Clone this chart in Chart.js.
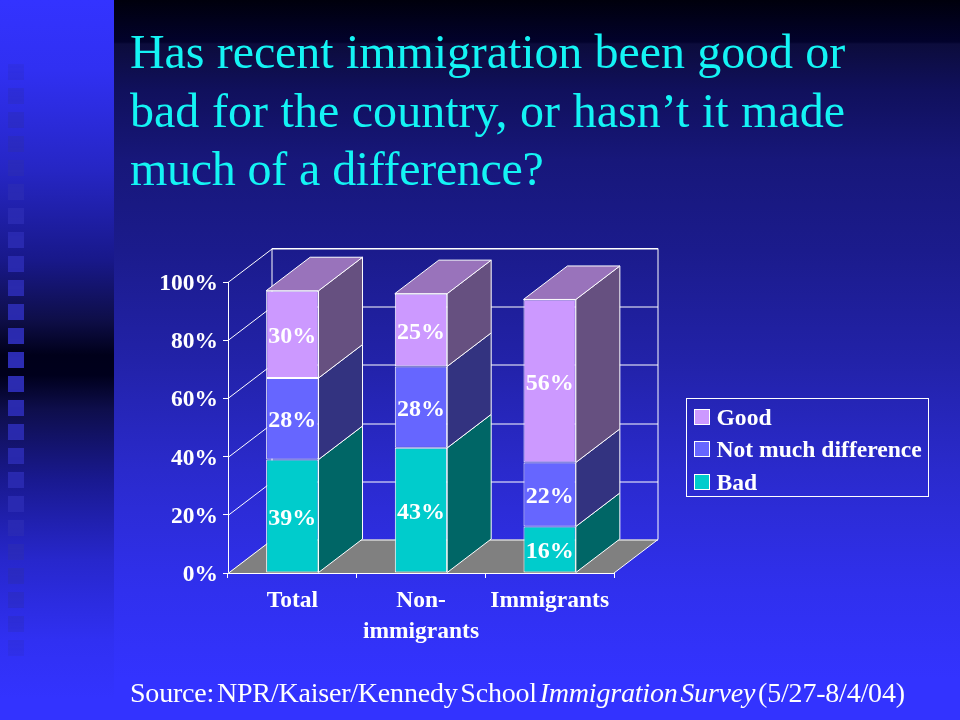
<!DOCTYPE html>
<html>
<head>
<meta charset="utf-8">
<script src="https://cdn.jsdelivr.net/npm/chart.js@4/dist/chart.umd.min.js"></script>
<style>
html,body{margin:0;padding:0;width:960px;height:720px;overflow:hidden;background:#3333ff;}
#main{position:absolute;left:114px;top:0;width:846px;height:720px;
 background:linear-gradient(to bottom,#00000c 0,#02022c 42px,#0c0c3c 44px,#10105c 90px,#17177a 160px,#1b1b8c 250px,#2222a8 360px,#2a2acc 470px,#3030ee 590px,#3333ff 680px);}
#band{position:absolute;left:0;top:0;width:114px;height:720px;
 background:linear-gradient(to bottom,#3333ff 0,#3030f2 70px,#2626c4 170px,#18188a 260px,#0e0e48 320px,#00001a 355px,#00001c 375px,#0e0e4c 410px,#191990 480px,#2727cc 560px,#3030f2 640px,#3333ff 700px);}
#squares{position:absolute;left:8px;top:64px;width:16px;height:600px;
 background:repeating-linear-gradient(to bottom,#2c2cb4 0,#2c2cb4 16px,transparent 16px,transparent 24px);
 -webkit-mask-image:linear-gradient(to bottom,rgba(0,0,0,.2) 0,rgba(0,0,0,.8) 25%,#000 50%,rgba(0,0,0,.8) 75%,rgba(0,0,0,.15) 100%);}
#title{position:absolute;left:130px;top:23px;font:48px/58.5px "Liberation Serif",serif;color:#14f4f4;white-space:pre;word-spacing:.5px;}
#title .l1{letter-spacing:-.09px;}
#title .l2{letter-spacing:.03px;}
#title .l3{letter-spacing:-.33px;}
#source{position:absolute;left:130px;top:678px;font:28px/30px "Liberation Serif",serif;color:#fff;white-space:pre;word-spacing:-4px;letter-spacing:-.2px;}
canvas{position:absolute;left:0;top:0;}
</style>
</head>
<body>
<div id="band"></div><div id="squares"></div><div id="main"></div>
<canvas id="c" width="960" height="720" style="width:960px;height:720px"></canvas>
<div id="title"><span class="l1">Has recent immigration been good or</span>
<span class="l2">bad for the country, or hasn’t it made</span>
<span class="l3">much of a difference?</span></div>
<div id="source">Source: NPR/Kaiser/Kennedy School <i>Immigration Survey</i> (5/27-8/4/04)</div>
<script>
const categories = [['Total'], ['Non-', 'immigrants'], ['Immigrants']];
const bad = [39, 43, 16];
const notMuch = [28, 28, 22];
const good = [30, 25, 56];
const yTicks = [0, 20, 40, 60, 80, 100];

const DX = 44, DY = 33.5;
const LW = '#ffffff';
const SIDE = ['#006666', '#333380', '#665080'];
const TOP = ['#00a0a0', '#4d4dc0', '#9973bb'];
const FAMILY = '"Liberation Serif", serif';

function poly(ctx, pts, fill) {
  ctx.beginPath();
  pts.forEach((p, i) => i ? ctx.lineTo(p[0], p[1]) : ctx.moveTo(p[0], p[1]));
  ctx.closePath();
  if (fill) { ctx.fillStyle = fill; ctx.fill(); }
  ctx.strokeStyle = LW; ctx.lineWidth = 1; ctx.stroke();
}

const box3d = {
  id: 'box3d',
  beforeDatasetsDraw(chart) {
    const { ctx, chartArea: a, scales: { y } } = chart;
    ctx.save();
    ctx.beginPath();
    ctx.moveTo(a.left, a.bottom); ctx.lineTo(a.right, a.bottom);
    ctx.lineTo(a.right + DX, a.bottom - DY); ctx.lineTo(a.left + DX, a.bottom - DY);
    ctx.closePath(); ctx.fillStyle = '#808080'; ctx.fill();
    ctx.strokeStyle = LW; ctx.lineWidth = 1;
    ctx.beginPath();
    ctx.moveTo(a.left + DX, a.bottom - DY); ctx.lineTo(a.left + DX, a.top - DY);
    ctx.lineTo(a.right + DX, a.top - DY); ctx.lineTo(a.right + DX, a.bottom - DY);
    ctx.moveTo(a.right, a.bottom); ctx.lineTo(a.right + DX, a.bottom - DY);
    ctx.stroke();
    yTicks.forEach(v => {
      const py = Math.round(y.getPixelForValue(v)) + 0.5;
      ctx.beginPath();
      ctx.moveTo(a.left, py); ctx.lineTo(a.left + DX, py - DY);
      ctx.lineTo(a.right + DX, py - DY);
      ctx.stroke();
    });
    ctx.restore();
  },
  afterDatasetsDraw(chart) {
    const { ctx } = chart;
    ctx.save();
    const n = chart.data.datasets.length;
    chart.data.datasets.forEach((ds, di) => {
      chart.getDatasetMeta(di).data.forEach(bar => {
        const r = bar.x + bar.width / 2, l = bar.x - bar.width / 2;
        poly(ctx, [[r, bar.base], [r + DX, bar.base - DY], [r + DX, bar.y - DY], [r, bar.y]], SIDE[di]);
        if (di === n - 1) {
          poly(ctx, [[l, bar.y], [l + DX, bar.y - DY], [r + DX, bar.y - DY], [r, bar.y]], TOP[di]);
        }
      });
    });
    ctx.font = 'bold 24px ' + FAMILY; ctx.fillStyle = '#fff';
    ctx.textAlign = 'center'; ctx.textBaseline = 'middle';
    chart.data.datasets.forEach((ds, di) => {
      chart.getDatasetMeta(di).data.forEach((bar, i) => {
        ctx.fillText(ds.data[i] + '%', bar.x, (bar.y + bar.base) / 2 + 2.5);
      });
    });
    ctx.restore();
  },
  afterDraw(chart) {
    const { ctx } = chart;
    ctx.save();
    ctx.strokeStyle = LW; ctx.lineWidth = 1;
    ctx.strokeRect(686.5, 398.5, 242, 98);
    ctx.font = 'bold 23.6px ' + FAMILY; ctx.textAlign = 'left'; ctx.textBaseline = 'middle';
    chart.data.datasets.slice().reverse().forEach((ds, i) => {
      const cy = 417.5 + i * 32.5;
      const top = Math.floor(cy - 8.5) + 0.5;
      ctx.fillStyle = ds.backgroundColor;
      ctx.fillRect(694.5, top, 15, 15);
      ctx.strokeRect(694.5, top, 15, 15);
      ctx.fillStyle = '#fff';
      ctx.fillText(ds.label, 716.5, cy + 1);
    });
    ctx.restore();
  }
};

new Chart(document.getElementById('c'), {
  type: 'bar',
  data: {
    labels: categories,
    datasets: [
      { label: 'Bad', data: bad, backgroundColor: '#00cccc' },
      { label: 'Not much difference', data: notMuch, backgroundColor: '#6666ff' },
      { label: 'Good', data: good, backgroundColor: '#cc99ff' }
    ].map(d => Object.assign(d, { borderColor: LW, borderWidth: 1, borderSkipped: false,
      categoryPercentage: 1, barPercentage: 0.407 }))
  },
  options: {
    responsive: false,
    animation: false,
    devicePixelRatio: 1,
    layout: { padding: { left: 128, right: 346, top: 282, bottom: 57 } },
    scales: {
      x: {
        stacked: true,
        afterFit(s) { s.height = 90; },
        grid: { drawOnChartArea: false, color: LW, tickColor: LW, tickLength: 5 },
        border: { color: LW },
        ticks: { color: '#fff', font: { family: FAMILY, size: 23.5, weight: 'bold', lineHeight: 1.32 },
                 maxRotation: 0, autoSkip: false, padding: 7 }
      },
      y: {
        stacked: true, min: 0, max: 100,
        afterFit(s) { s.width = 100; },
        grid: { drawOnChartArea: false, color: LW, tickColor: LW, tickLength: 5 },
        border: { color: LW },
        ticks: { color: '#fff', font: { family: FAMILY, size: 23.5, weight: 'bold' },
                 stepSize: 20, padding: 5, labelOffset: 2, callback: v => v + '%' }
      }
    },
    plugins: {
      tooltip: { enabled: false },
      title: { display: false },
      legend: { display: false }
    }
  },
  plugins: [box3d]
});
</script>
</body>
</html>
